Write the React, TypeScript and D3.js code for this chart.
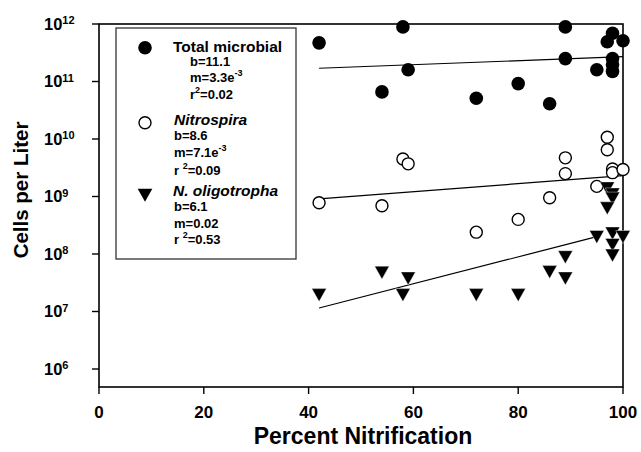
import React from 'react';
import * as d3 from 'd3';

const xTickValues = [0, 20, 40, 60, 80, 100];
const yTickExponents = [6, 7, 8, 9, 10, 11, 12];

const totalPct = [42, 58, 59, 54, 72, 80, 86, 89, 89, 95, 98, 97, 100, 98, 98, 98];
const totalCells = [4.7e11, 8.9e11, 1.6e11, 6.6e10, 5.1e10, 9.2e10, 4.1e10, 8.9e11, 2.5e11, 1.6e11, 6.9e11, 4.9e11, 5.1e11, 2.5e11, 1.95e11, 1.5e11];

const nitrospiraPct = [42, 54, 58, 59, 72, 80, 86, 89, 89, 95, 97, 97, 98, 98, 100];
const nitrospiraCells = [7.8e8, 6.9e8, 4.5e9, 3.7e9, 2.4e8, 4.0e8, 9.5e8, 4.7e9, 2.5e9, 1.5e9, 1.07e10, 6.5e9, 3.0e9, 2.6e9, 2.95e9];

const oligoPct = [42, 54, 59, 58, 72, 80, 86, 89, 89, 95, 98, 98, 98, 100, 97, 98, 98, 97];
const oligoCells = [1.95e7, 4.8e7, 3.8e7, 1.95e7, 1.95e7, 1.95e7, 4.9e7, 8.9e7, 3.8e7, 2.0e8, 2.3e8, 1.45e8, 9.5e7, 2.0e8, 1.4e9, 1.1e9, 9.3e8, 6.3e8];

const fitStartPct = [42, 42, 42];
const fitEndPct = [100, 100, 95];
const fitStartCells = [1.7e11, 9.1e8, 1.15e7];
const fitEndCells = [2.7e11, 2.3e9, 2.0e8];

const seriesNames = ['Total microbial', 'Nitrospira', 'N. oligotropha'];
const bLabels = ['b=11.1', 'b=8.6', 'b=6.1'];
const mLabels = ['m=3.3e', 'm=7.1e', 'm=0.02'];
const mSup = ['-3', '-3', ''];
const rPrefix = ['r', 'r ', 'r '];
const rLabels = ['=0.02', '=0.09', '=0.53'];

const xTitle = 'Percent Nitrification';
const yTitle = 'Cells per Liter';

const FONT = '"Liberation Sans", Arial, Helvetica, sans-serif';

const W = 641, H = 452;
const left = 99, right = 623, top = 24, bottom = 387;

const x = d3.scaleLinear().domain([0, 100]).range([left, right]);
const y = d3.scaleLog().domain([Math.pow(10, 5.687), 1e12]).range([bottom, top]);

const tri = 'M -7.3,-6.2 L 7.3,-6.2 L 0,6.8 Z';

export default function App() {
  const legendLeft = 116, legendTop = 28, legendRight = 296, legendBottom = 259;
  const groups = [
    { titleY: 51.7, tx: 173, vx: 190, lines: [65.7, 82.3, 99.3], markerY: 47.7, italic: false },
    { titleY: 125, tx: 174, vx: 174, lines: [140, 157.3, 175], markerY: 122.7, italic: true },
    { titleY: 196, tx: 173, vx: 174, lines: [210.7, 227.7, 244], markerY: 195, italic: true },
  ];
  return (
    <svg width={W} height={H} style={{ position: 'absolute', left: 0, top: 0, background: '#fff' }} fontFamily={FONT}>
      <rect x={0} y={0} width={W} height={H} fill="#fff" />
      {/* frame */}
      <rect x={left} y={top} width={right - left} height={bottom - top} fill="none" stroke="#000" strokeWidth={1.6} />
      {/* x ticks */}
      {xTickValues.map((v) => (
        <g key={'xt' + v}>
          <line x1={x(v)} x2={x(v)} y1={bottom} y2={bottom + 7} stroke="#000" strokeWidth={1.4} />
          <text x={x(v)} y={418} textAnchor="middle" fontSize={17} fontWeight="bold">{v}</text>
        </g>
      ))}
      {/* y ticks */}
      {yTickExponents.map((e) => {
        const py = y(Math.pow(10, e));
        return (
          <g key={'yt' + e}>
            <line x1={left - 7} x2={left} y1={py} y2={py} stroke="#000" strokeWidth={1.4} />
            <text x={44} y={py + 5.5} fontSize={16.5} fontWeight="bold">
              10<tspan fontSize={11} dy={-5.5}>{e}</tspan>
            </text>
          </g>
        );
      })}
      <text x={(left + right) / 2 + 2} y={444} textAnchor="middle" fontSize={23} fontWeight="bold">{xTitle}</text>
      <text transform={`translate(28,190) rotate(-90)`} textAnchor="middle" fontSize={20.5} fontWeight="bold">{yTitle}</text>

      {/* fit lines */}
      {fitStartPct.map((p, i) => (
        <line key={'fit' + i} x1={x(p)} y1={y(fitStartCells[i])} x2={x(fitEndPct[i])} y2={y(fitEndCells[i])} stroke="#000" strokeWidth={1.2} />
      ))}

      {/* data */}
      {totalPct.map((p, i) => (
        <circle key={'t' + i} cx={x(p)} cy={y(totalCells[i])} r={6.8} fill="#000" />
      ))}
      {nitrospiraPct.map((p, i) => (
        <circle key={'n' + i} cx={x(p)} cy={y(nitrospiraCells[i])} r={6} fill="#fff" stroke="#000" strokeWidth={1.4} />
      ))}
      {oligoPct.map((p, i) => (
        <path key={'o' + i} d={tri} transform={`translate(${x(p)},${y(oligoCells[i])})`} fill="#000" stroke="#fff" strokeWidth={0.4} />
      ))}

      {/* legend */}
      <rect x={legendLeft} y={legendTop} width={legendRight - legendLeft} height={legendBottom - legendTop} fill="#fff" stroke="#333" strokeWidth={1.3} />
      <circle cx={145} cy={groups[0].markerY} r={6.8} fill="#000" />
      <circle cx={145} cy={groups[1].markerY} r={6} fill="#fff" stroke="#000" strokeWidth={1.4} />
      <path d={tri} transform={`translate(145,${groups[2].markerY})`} fill="#000" />
      {groups.map((g, i) => (
        <g key={'lg' + i} fontWeight="bold">
          <text x={g.tx} y={g.titleY} fontSize={15.5} fontStyle={g.italic ? 'italic' : 'normal'}>{seriesNames[i]}</text>
          <text x={g.vx} y={g.lines[0]} fontSize={13}>{bLabels[i]}</text>
          <text x={g.vx} y={g.lines[1]} fontSize={13}>
            {mLabels[i]}
            {mSup[i] ? <tspan fontSize={9} dy={-6}>{mSup[i]}</tspan> : null}
          </text>
          <text x={g.vx} y={g.lines[2]} fontSize={13}>
            {rPrefix[i]}
            <tspan fontSize={9} dy={-6}>2</tspan>
            <tspan dy={6}>{rLabels[i]}</tspan>
          </text>
        </g>
      ))}
    </svg>
  );
}
